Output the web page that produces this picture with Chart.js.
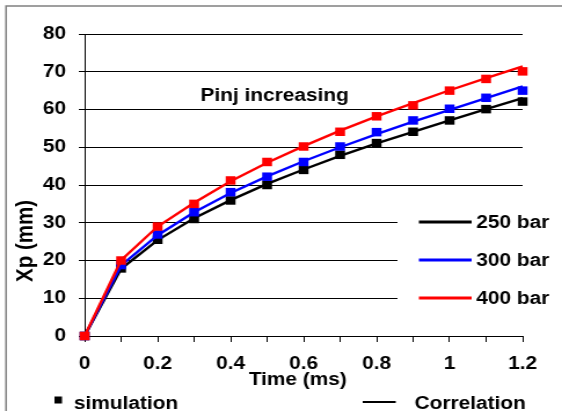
<!DOCTYPE html>
<html>
<head>
<meta charset="utf-8">
<script src="https://cdn.jsdelivr.net/npm/chart.js@4/dist/chart.umd.min.js"></script>
<style>
  html, body { margin: 0; padding: 0; background: #fff; overflow: hidden; }
  #wrap { position: relative; width: 485px; height: 411px; transform: scaleX(1.1588); transform-origin: 0 0; }
</style>
</head>
<body>
<div id="wrap"><canvas id="xpChart"></canvas></div>
<script>
// time (ms)
const times = [0, 0.1, 0.2, 0.3, 0.4, 0.5, 0.6, 0.7, 0.8, 0.9, 1.0, 1.1, 1.2];

// simulation points, Xp (mm)
const sim250 = [0, 17.9, 25.5, 31.0, 35.9, 40.0, 44.0, 48.0, 51.1, 54.1, 57.1, 60.1, 62.1];
const sim300 = [0, 18.8, 26.9, 32.8, 38.1, 42.2, 46.1, 50.2, 54.0, 57.1, 60.2, 63.1, 65.0];
const sim400 = [0, 20.0, 29.0, 35.0, 41.2, 46.1, 50.2, 54.1, 58.2, 61.1, 65.0, 68.1, 70.1];

// correlation curves, Xp (mm)
const corr250 = [0, 17.8, 25.4, 31.2, 36.0, 40.3, 44.1, 47.7, 51.0, 54.1, 57.1, 60.1, 63.0];
const corr300 = [0, 18.7, 26.7, 32.8, 37.9, 42.3, 46.3, 50.0, 53.5, 56.8, 59.9, 63.0, 66.1];
const corr400 = [0, 20.1, 29.0, 35.3, 41.0, 45.9, 50.3, 54.4, 58.2, 61.7, 65.1, 68.3, 71.4];

const pressures = ['250 bar', '300 bar', '400 bar'];
const colors = ['#000000', '#0000ff', '#ff0000'];

const FONT = '"Liberation Sans", Arial, sans-serif';

function pts(ys) {
    return times.map((t, i) => ({ x: t, y: ys[i] }));
}

function simSet(label, ys, color) {
    return {
        label: label,
        data: pts(ys),
        showLine: false,
        pointStyle: 'rect',
        pointRadius: 6,
        pointBorderWidth: 0,
        pointBackgroundColor: color,
        borderColor: color,
        clip: false
    };
}

function corrSet(label, ys, color) {
    return {
        label: label,
        data: pts(ys),
        showLine: true,
        borderColor: color,
        borderWidth: 2.4,
        pointRadius: 0,
        fill: false,
        clip: false
    };
}

// bits drawn by hand: frame, legend boxes, titles, note
const decor = {
    id: 'decor',
    beforeDatasetsDraw(chart) {
        const ctx = chart.ctx;
        ctx.save();
        ctx.fillStyle = '#ffffff';
        ctx.fillRect(343, 196, 142, 124);
        ctx.restore();
    },
    afterDraw(chart) {
        const ctx = chart.ctx;
        ctx.save();
        // outer frame
        ctx.strokeStyle = '#808080';
        ctx.lineWidth = 1.5;
        ctx.beginPath();
        ctx.moveTo(5.2, 420);
        ctx.lineTo(5.2, 6);
        ctx.lineTo(490, 6);
        ctx.stroke();

        ctx.fillStyle = '#000';
        ctx.font = 'bold 18px ' + FONT;
        ctx.textBaseline = 'middle';

        // pressure legend
        const rows = [222, 260, 298];
        for (let i = 0; i < 3; i++) {
            ctx.strokeStyle = colors[i];
            ctx.lineWidth = 3;
            ctx.beginPath();
            ctx.moveTo(361.5, rows[i]);
            ctx.lineTo(407, rows[i]);
            ctx.stroke();
            ctx.textAlign = 'left';
            ctx.fillText(pressures[i], 411, rows[i] + 1);
        }

        // note
        ctx.textAlign = 'center';
        ctx.textBaseline = 'alphabetic';
        ctx.fillText('Pinj increasing', 237, 101);

        // x title
        ctx.fillText('Time (ms)', 257, 385);

        // y title
        ctx.save();
        ctx.font = 'bold 20.5px ' + FONT;
        ctx.translate(21, 241);
        ctx.rotate(-Math.PI / 2);
        ctx.textBaseline = 'middle';
        ctx.fillText('Xp (mm)', 0, 1);
        ctx.restore();

        // bottom legend
        ctx.fillRect(47, 396.5, 6.5, 7);
        ctx.textAlign = 'left';
        ctx.fillText('simulation', 63.8, 409);
        ctx.strokeStyle = '#000';
        ctx.lineWidth = 2;
        ctx.beginPath();
        ctx.moveTo(313, 402);
        ctx.lineTo(341.5, 402);
        ctx.stroke();
        ctx.fillText('Correlation', 357.8, 409);
        ctx.restore();
    }
};

const ctx = document.getElementById('xpChart').getContext('2d');
const xpChart = new Chart(ctx, {
    type: 'scatter',
    data: {
        datasets: [
            simSet(pressures[2], sim400, colors[2]),
            corrSet(pressures[2], corr400, colors[2]),
            simSet(pressures[1], sim300, colors[1]),
            corrSet(pressures[1], corr300, colors[1]),
            simSet(pressures[0], sim250, colors[0]),
            corrSet(pressures[0], corr250, colors[0])
        ]
    },
    options: {
        responsive: true,
        maintainAspectRatio: false,
        animation: false,
        layout: {
            padding: { left: 0, right: 34, top: 34, bottom: 0 }
        },
        scales: {
            x: {
                type: 'linear',
                min: 0,
                max: 1.2,
                afterFit: function(scale) { scale.height = 75; },
                border: { display: true, color: '#000', width: 1 },
                grid: {
                    drawOnChartArea: false,
                    drawTicks: true,
                    tickLength: 6,
                    color: '#000'
                },
                ticks: {
                    stepSize: 0.1,
                    autoSkip: false,
                    maxRotation: 0,
                    padding: 11,
                    color: '#000',
                    font: { family: FONT, size: 18, weight: 'bold' },
                    callback: function(value) {
                        const k = Math.round(value * 10);
                        return k % 2 === 0 ? String(k / 10) : '';
                    }
                }
            },
            y: {
                min: 0,
                max: 80,
                afterFit: function(scale) { scale.width = 73; },
                border: { display: true, color: '#000', width: 1 },
                grid: {
                    color: '#000',
                    lineWidth: 1,
                    tickLength: 5
                },
                ticks: {
                    stepSize: 10,
                    padding: 11,
                    color: '#000',
                    font: { family: FONT, size: 18, weight: 'bold' }
                }
            }
        },
        plugins: {
            legend: { display: false },
            tooltip: { enabled: false }
        }
    },
    plugins: [decor]
});
</script>
</body>
</html>
